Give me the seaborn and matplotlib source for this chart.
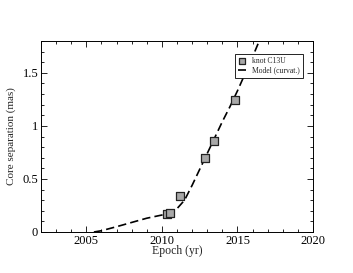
import numpy as np
import pandas as pd
import matplotlib
matplotlib.use("Agg")
import matplotlib.pyplot as plt
import seaborn as sns

# ── data ───────────────────────────────────────────────────────────────────
knot_epoch = [2010.33, 2010.55, 2011.22, 2012.87, 2013.42, 2014.82]
knot_sep   = [0.17, 0.18, 0.34, 0.70, 0.86, 1.245]
knot_err   = [0.02, 0.02, 0.02, 0.02, 0.02, 0.02]

model_epoch = [2005.5, 2006.0, 2007.0, 2008.0, 2009.0, 2010.0, 2010.5,
               2011.0, 2011.5, 2012.0, 2012.5, 2013.0, 2013.5, 2014.0,
               2014.5, 2015.0, 2015.5, 2016.0, 2016.5]
model_sep   = [0.0, 0.012, 0.05, 0.09, 0.13, 0.16, 0.18,
               0.22, 0.30, 0.44, 0.59, 0.74, 0.89, 1.04,
               1.18, 1.33, 1.49, 1.65, 1.82]

knots = pd.DataFrame({"epoch": knot_epoch, "sep": knot_sep})
model = pd.DataFrame({"epoch": model_epoch, "sep": model_sep})

sns.set_style("ticks")
plt.rcParams["font.family"] = ["Liberation Serif", "DejaVu Serif"]

fig = plt.figure(figsize=(3.53, 2.73), dpi=100)
ax = fig.add_axes([41 / 353, 1 - 232 / 273, 272 / 353, 191 / 273])

sns.lineplot(data=model, x="epoch", y="sep", ax=ax, color="black",
             lw=1.2, dashes=False, label="Model (curvat.)", zorder=2)
ax.lines[-1].set_dashes([5, 2.5])

ax.errorbar(knot_epoch, knot_sep, yerr=knot_err, fmt="none",
            ecolor="black", elinewidth=0.6, capsize=0, zorder=3)
sns.scatterplot(data=knots, x="epoch", y="sep", ax=ax, marker="s", s=36,
                color="#a8a8a8", edgecolor="#222222", linewidth=0.9,
                label="knot C13U", zorder=4)

ax.set_xlim(2002, 2020)
ax.set_ylim(0, 1.8)
ax.set_xticks([2005, 2010, 2015, 2020])
ax.set_xticks(np.arange(2002, 2021, 1), minor=True)
ax.set_yticks([0, 0.5, 1, 1.5])
ax.set_yticklabels(["0", "0.5", "1", "1.5"])
ax.set_yticks(np.arange(0, 1.81, 0.1), minor=True)
ax.tick_params(which="both", direction="in", top=True, right=True,
               labelsize=9, colors="black", width=0.6, pad=2)
ax.tick_params(which="major", length=4)
ax.tick_params(which="minor", length=2)
for sp in ax.spines.values():
    sp.set_linewidth(0.7)
    sp.set_color("black")

ax.set_xlabel("Epoch (yr)", fontsize=8.5, labelpad=-1)
ax.set_ylabel("Core separation (mas)", fontsize=8, labelpad=5)

handles, labels = ax.get_legend_handles_labels()
order = [labels.index("knot C13U"), labels.index("Model (curvat.)")]
leg = ax.legend([handles[i] for i in order], [labels[i] for i in order],
                loc="upper right", bbox_to_anchor=(0.963, 0.932),
                borderaxespad=0, fontsize=5.5, frameon=True, fancybox=False,
                edgecolor="black", framealpha=1, handlelength=1.0,
                handletextpad=0.8, borderpad=0.4, labelspacing=0.2,
                markerscale=0.7)
leg.get_frame().set_linewidth(0.6)

fig.savefig("out.png", dpi=100)
